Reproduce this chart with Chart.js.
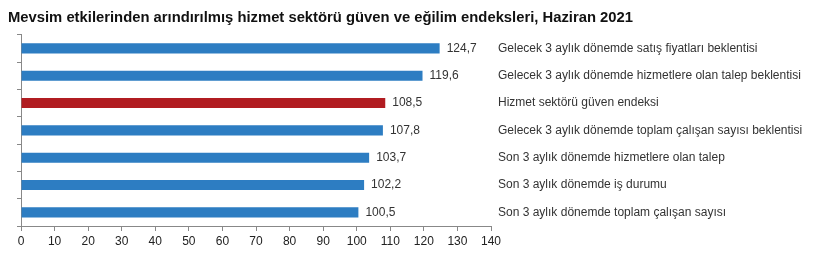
<!DOCTYPE html>
<html>
<head>
<meta charset="utf-8">
<script src="https://cdn.jsdelivr.net/npm/chart.js@4"></script>
<style>
  html, body { margin: 0; padding: 0; background: #fff; }
</style>
</head>
<body>
<canvas id="chart" width="822" height="255"></canvas>
<script>
// Seasonally adjusted services confidence and trend indices, June 2021
const categories = [
    'Gelecek 3 aylık dönemde satış fiyatları beklentisi',
    'Gelecek 3 aylık dönemde hizmetlere olan talep beklentisi',
    'Hizmet sektörü güven endeksi',
    'Gelecek 3 aylık dönemde toplam çalışan sayısı beklentisi',
    'Son 3 aylık dönemde hizmetlere olan talep',
    'Son 3 aylık dönemde iş durumu',
    'Son 3 aylık dönemde toplam çalışan sayısı',
];
const values = [124.7, 119.6, 108.5, 107.8, 103.7, 102.2, 100.5];
const xTicks = [0, 10, 20, 30, 40, 50, 60, 70, 80, 90, 100, 110, 120, 130, 140];

const BLUE = '#2d7dc2';
const RED = '#b11c21';
const FONT = 'Liberation Sans, Arial, sans-serif';

// value labels just past the end of each bar, with Turkish decimal comma
const valueLabels = {
    id: 'valueLabels',
    afterDatasetsDraw(chart) {
        const ctx = chart.ctx;
        const meta = chart.getDatasetMeta(0);
        ctx.save();
        ctx.font = '12px ' + FONT;
        ctx.fillStyle = '#333';
        ctx.textBaseline = 'middle';
        ctx.textAlign = 'left';
        meta.data.forEach((bar, i) => {
            const txt = values[i].toFixed(1).replace('.', ',');
            ctx.fillText(txt, bar.x + 7, bar.y);
        });
        ctx.restore();
    },
};

new Chart(document.getElementById('chart'), {
    type: 'bar',
    data: {
        labels: categories,
        datasets: [{
            data: values,
            backgroundColor: values.map((v, i) => i === 2 ? RED : BLUE),
            borderWidth: 0,
            categoryPercentage: 1,
            barPercentage: 0.37,
            yAxisID: 'y',
        }],
    },
    options: {
        indexAxis: 'y',
        responsive: false,
        animation: false,
        devicePixelRatio: 1,
        layout: { padding: { left: 8, right: 0, top: 0, bottom: 0 } },
        plugins: {
            legend: { display: false },
            tooltip: { enabled: false },
            title: {
                display: true,
                text: 'Mevsim etkilerinden arındırılmış hizmet sektörü güven ve eğilim endeksleri, Haziran 2021',
                align: 'start',
                color: '#111',
                font: { family: FONT, size: 14.8, weight: 'bold' },
                padding: { top: 9, bottom: 8 },
            },
        },
        scales: {
            x: {
                min: 0,
                max: 140,
                afterBuildTicks: s => { s.ticks = xTicks.map(v => ({ value: v })); },
                grid: { drawOnChartArea: false, tickLength: 5, color: '#888' },
                border: { color: '#888' },
                ticks: {
                    color: '#222',
                    padding: 3,
                    maxRotation: 0,
                    font: { family: FONT, size: 12 },
                },
                afterFit: s => { s.height = 29; },
            },
            yL: {
                type: 'category',
                position: 'left',
                labels: categories,
                offset: true,
                grid: { drawOnChartArea: false, tickLength: 4, color: '#888', offset: true },
                border: { color: '#888' },
                ticks: { display: false },
                afterFit: s => { s.width = 13; },
            },
            y: {
                type: 'category',
                position: 'right',
                offset: true,
                grid: { display: false },
                border: { display: false },
                ticks: {
                    color: '#333',
                    padding: -1,
                    font: { family: FONT, size: 12 },
                },
                afterFit: s => { s.width = 331; },
            },
        },
    },
    plugins: [valueLabels],
});
</script>
</body>
</html>
